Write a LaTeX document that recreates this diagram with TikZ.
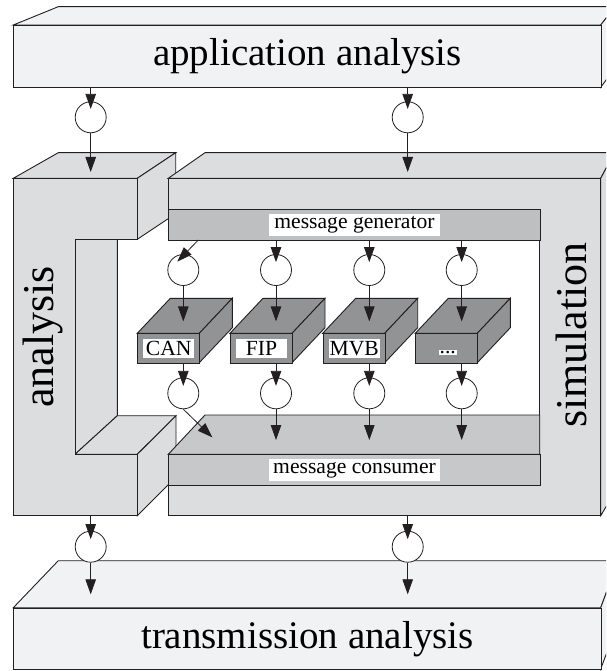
\documentclass[tikz,border=0pt]{standalone}
\usepackage{fontspec}
\setmainfont{Liberation Serif}
\usetikzlibrary{arrows.meta}
\definecolor{boxlight}{HTML}{F1F2F4}
\definecolor{blockgrey}{HTML}{DCDDDF}
\definecolor{bargrey}{HTML}{BEBFC1}
\definecolor{congrey}{HTML}{C7C8CA}
\definecolor{busgrey}{HTML}{929395}
\definecolor{edgecol}{HTML}{231F20}
\begin{document}
\begin{tikzpicture}[x=1pt,y=-1pt,
  face/.style={draw=edgecol, line width=0.9pt, line join=miter},
  conn/.style={draw=edgecol, line width=0.8pt, -{Triangle[length=15pt,width=10.5pt]}},
  ring/.style={circle, draw=edgecol, line width=0.8pt, fill=white, minimum size=31pt, inner sep=0pt},
  bigbox/.style={face, fill=boxlight, anchor=north west, inner sep=0pt, font=\fontsize{39}{44}\selectfont},
  sidelabel/.style={font=\fontsize{44}{50}\selectfont, inner sep=0pt, rotate=90, anchor=base},
  tag/.style={fill=white, inner sep=0pt, font=\fontsize{21.6}{24}\selectfont},
  busfront/.style={face, fill=busgrey, anchor=north west, minimum width=62pt, minimum height=29.4pt, inner sep=0pt},
  bustag/.style={tag, minimum width=51pt, minimum height=18.4pt},
]
\useasboundingbox (0,0) rectangle (606,671);
\clip (0,0) rectangle (606,671);
\fill[white] (0,0) rectangle (606,671);

% ---------- application analysis box ----------
\filldraw[face, fill=boxlight] (13.3,25) -- (58.3,6.7) -- (615,6.7) -- (600.7,25) -- cycle;
\filldraw[face, fill=boxlight] (600.7,25) -- (615,6.7) -- (615,68) -- (600.7,87.3) -- cycle;
\node[bigbox, minimum width=587.4pt, minimum height=62.3pt] (app) at (13.3,25) {application analysis};

% ---------- analysis block (C shape) ----------
\filldraw[face, fill=blockgrey] (13.3,178.3) -- (58.3,152.7) -- (175.7,152.7) -- (137.3,178.3) -- cycle;
\filldraw[face, fill=blockgrey] (137.3,178.3) -- (175.7,152.7) -- (175.7,213.7) -- (137.3,239.3) -- cycle;
\filldraw[face, fill=blockgrey] (75,239.3) -- (117.3,239.3) -- (117.3,415.7) -- (75,454.3) -- cycle;
\filldraw[face, fill=blockgrey] (75,454.3) -- (117.3,415.7) -- (176,415.7) -- (137.3,454.3) -- cycle;
\filldraw[face, fill=blockgrey] (137.3,454.3) -- (176,415.7) -- (176,477.1) -- (137.3,515.7) -- cycle;
\filldraw[face, fill=blockgrey] (13.3,178.3) -- (137.3,178.3) -- (137.3,239.3) -- (75,239.3)
  -- (75,454.3) -- (137.3,454.3) -- (137.3,515.7) -- (13.3,515.7) -- cycle;

% ---------- simulation block ----------
\filldraw[face, fill=blockgrey] (168.3,178.3) -- (205,152.7) -- (614.4,152.7) -- (600.7,178.3) -- cycle;
\filldraw[face, fill=blockgrey] (600.7,178.3) -- (614.4,152.7) -- (615.9,490.1) -- (600.7,515.7) -- cycle;
\filldraw[face, fill=blockgrey] (168.3,178.3) -- (600.7,178.3) -- (600.7,515.7) -- (168.3,515.7)
  -- (168.3,485) -- (539.7,485) -- (539.7,209.3) -- (168.3,209.3) -- cycle;
\node[face, fill=bargrey, anchor=north west, minimum width=371.4pt, minimum height=30.7pt, inner sep=0pt] (gen) at (168.3,209.3) {};
\filldraw[face, fill=congrey] (168.3,454.3) -- (205,415) -- (539.7,415) -- (539.7,454.3) -- cycle;
\node[face, fill=congrey, anchor=north west, minimum width=371.4pt, minimum height=30.7pt, inner sep=0pt] (con) at (168.3,454.3) {};
\node[tag, minimum width=171pt, minimum height=22pt] (genlbl) at (354.5,225) {message generator};
\node[tag, minimum width=171pt, minimum height=22pt] (conlbl) at (354.5,470.2) {message consumer};

% ---------- bus boxes ----------
\foreach \n/\L in {can/137.3, fip/230, mvb/322.7, etc/415.3}{
  \filldraw[face, fill=busgrey] (\L,333.3) -- ({\L+33},298.3) -- ({\L+95},298.3) -- ({\L+62},333.3) -- cycle;
  \filldraw[face, fill=busgrey] ({\L+62},333.3) -- ({\L+95},298.3) -- ({\L+95},327.7) -- ({\L+62},362.7) -- cycle;
  \node[busfront] (\n) at (\L,333.3) {};
}
\node[bustag] (canlbl) at (can) {CAN};
\node[bustag] (fiplbl) at (fip) {FIP};
\node[bustag] (mvblbl) at (mvb) {MVB};
\node[tag, inner sep=0.8pt] (etclbl) at ([xshift=1pt, yshift=-4pt]etc.center) {...};

% ---------- transmission analysis box ----------
\filldraw[face, fill=boxlight] (13.3,607.7) -- (58.3,560.7) -- (618.2,560.7) -- (600.7,607.7) -- cycle;
\filldraw[face, fill=boxlight] (600.7,607.7) -- (618.2,560.7) -- (618.2,622) -- (600.7,669) -- cycle;
\node[bigbox, minimum width=587.4pt, minimum height=61.3pt] (trans) at (13.3,607.7) {transmission analysis};

% ---------- side labels ----------
\node[sidelabel] (analbl) at (53,337) {analysis};
\node[sidelabel] (simlbl) at (586,335) {simulation};

% ---------- circles ----------
\node[ring] (t1) at (90.7,117.3) {};
\node[ring] (t2) at (407.7,117.3) {};
\foreach \n/\x in {1/183.3, 2/276, 3/369.3, 4/461.7}{
  \node[ring] (g\n) at (\x,270) {};
  \node[ring] (b\n) at (\x,393.3) {};
}
\node[ring] (d1) at (90.7,546.7) {};
\node[ring] (d2) at (407.7,546.7) {};

% ---------- connector end points ----------
\coordinate (anaTop) at (90.7,172);
\coordinate (simTop) at (407.7,172);
\coordinate (anaBot) at (90.7,515.7);
\coordinate (simBot) at (407.7,515.7);
\coordinate (trA) at (90.7,594.3);
\coordinate (trB) at (407.7,594.3);
\coordinate (g1from) at (198.3,240);
\coordinate (g1tip) at (177.3,261.7);
\coordinate (b1tip) at (212.3,437.3);

% ---------- connectors ----------
\draw[conn, shorten >=-7.5pt] (app.south -| t1) -- (t1.north);
\draw[conn, shorten >=-7.5pt] (app.south -| t2) -- (t2.north);
\draw[conn] (t1.south) -- (anaTop);
\draw[conn] (t2.south) -- (simTop);

\draw[conn] (g1from) -- (g1tip);
\draw[conn, shorten >=-8pt] (gen.south -| g2) -- (g2.north);
\draw[conn, shorten >=-8pt] (gen.south -| g3) -- (g3.north);
\draw[conn, shorten >=-8pt] (gen.south -| g4) -- (g4.north);
\foreach \n in {1,2,3,4}{
  \draw[conn] (g\n.south) -- ++(0,35.5);
}
\draw[conn, shorten >=-8.5pt] (can.south -| b1) -- (b1.north);
\draw[conn, shorten >=-8.5pt] (fip.south -| b2) -- (b2.north);
\draw[conn, shorten >=-8.5pt] (mvb.south -| b3) -- (b3.north);
\draw[conn, shorten >=-8.5pt] (etc.south -| b4) -- (b4.north);
\draw[conn] (b1.south) -- (b1tip);
\draw[conn] (b2.south) -- ([yshift=14.3pt]b2.south |- con.north);
\draw[conn] (b3.south) -- ([yshift=14.3pt]b3.south |- con.north);
\draw[conn] (b4.south) -- ([yshift=14.3pt]b4.south |- con.north);

\draw[conn, shorten >=-8.3pt] (anaBot) -- (d1.north);
\draw[conn, shorten >=-8.3pt] (simBot) -- (d2.north);
\draw[conn] (d1.south) -- (trA);
\draw[conn] (d2.south) -- (trB);
\end{tikzpicture}
\end{document}
